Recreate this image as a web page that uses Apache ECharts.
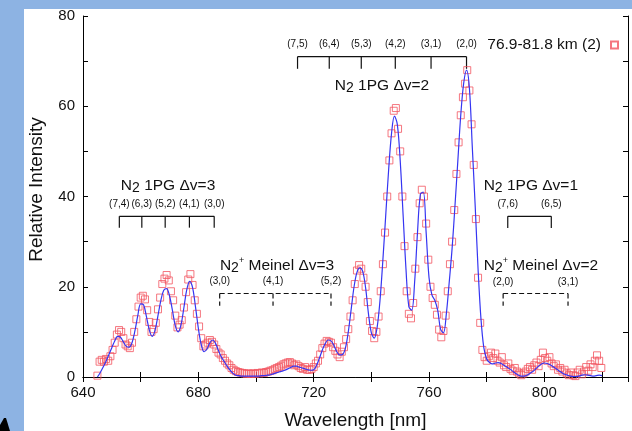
<!DOCTYPE html>
<html><head><meta charset="utf-8">
<script src="https://cdn.jsdelivr.net/npm/echarts@6/dist/echarts.min.js"></script>
<style>html,body{margin:0;padding:0;background:#fff}#c{width:632px;height:431px}</style>
</head><body><div id="c"></div>
<script>
// ---------- data ----------
const seriesName = '76.9-81.8 km (2)';
const xLabelTicks = [640, 680, 720, 760, 800];
const yLabelTicks = [0, 20, 40, 60, 80];

// fitted synthetic spectrum (blue line): [wavelength nm, relative intensity]
const fitCurve = [[645,0.0],[646,1.0],[647,2.2],[648,3.5],[649,5.0],[650,6.5],[651,8.0],[652,9.0],[653,8.8],[654,7.8],[655,6.8],[656,6.6],[657,7.6],[658,10.2],[659,13.6],[660,16.2],[661,16.0],[662,13.4],[663,10.4],[664,9.0],[665,10.4],[666,13.6],[667,17.0],[668,19.2],[669,19.6],[670,18.0],[671,14.8],[672,11.4],[673,10.0],[674,11.6],[675,15.4],[676,19.4],[677,21.2],[678,19.8],[679,15.6],[680,10.8],[681,7.2],[682,5.6],[683,6.2],[684,7.6],[685,8.2],[686,7.4],[687,5.8],[688,4.4],[689,3.4],[690,2.4],[691,1.5],[692,0.8],[693,0.4],[694,0.3],[695,0.2],[696,0.2],[697,0.2],[698,0.2],[699,0.2],[700,0.2],[701,0.2],[702,0.3],[703,0.3],[704,0.4],[705,0.5],[706,0.7],[707,0.9],[708,1.1],[709,1.3],[710,1.5],[711,1.8],[712,2.1],[713,2.4],[714,2.4],[715,2.2],[716,2.0],[717,1.8],[718,1.6],[719,1.5],[720,1.6],[721,2.6],[722,4.2],[723,6.0],[724,7.4],[725,8.2],[726,8.0],[727,7.0],[728,5.6],[729,4.9],[730,5.0],[731,6.4],[732,10.0],[733,15.0],[734,20.0],[735,23.2],[736,24.2],[737,23.4],[738,19.8],[739,14.0],[740,9.8],[741,8.6],[742,11.0],[743,17.0],[744,26.0],[745,36.0],[746,46.0],[747,54.0],[748,57.8],[749,56.0],[750,48.0],[751,36.0],[752,24.0],[753,15.6],[754,14.8],[755,21.0],[756,32.0],[757,40.5],[758,41.0],[759,32.0],[760,22.0],[761,18.2],[762,17.0],[763,14.8],[764,10.6],[765,9.8],[766,14.0],[767,21.0],[768,28.5],[769,38.0],[770,48.0],[771,58.0],[772,65.0],[773,68.0],[774,64.0],[775,51.0],[776,38.0],[777,24.0],[778,13.0],[779,6.5],[780,4.0],[781,3.2],[782,2.9],[783,3.1],[784,3.2],[785,3.0],[786,2.6],[787,2.2],[788,1.8],[789,1.3],[790,0.8],[791,0.4],[792,0.2],[793,0.2],[794,0.4],[795,0.8],[796,1.2],[797,1.8],[798,2.4],[799,2.9],[800,3.1],[801,3.0],[802,2.7],[803,2.3],[804,1.9],[805,1.4],[806,1.0],[807,0.6],[808,0.4],[809,0.2],[810,0.1],[811,0.1],[812,0.2],[813,0.4],[814,0.5],[815,0.4],[816,0.3],[817,0.2],[818,0.3],[819,0.4],[820,0.3]];

// measured spectrum (red squares): [wavelength nm, relative intensity]
const obsPoints = [[645.00,0.3],[645.75,3.4],[646.50,3.8],[647.25,3.4],[648.00,4.0],[648.75,3.6],[649.50,4.6],[650.25,6.0],[651.00,7.6],[651.75,9.4],[652.50,10.4],[653.25,10.0],[654.00,8.6],[654.75,7.2],[655.50,6.8],[656.25,6.4],[657.00,7.6],[657.75,10.0],[658.50,12.8],[659.25,15.6],[660.00,17.6],[660.75,18.0],[661.50,17.2],[662.25,14.8],[663.00,12.2],[663.75,10.0],[664.50,10.6],[665.25,12.0],[666.00,15.0],[666.75,17.6],[667.50,20.6],[668.25,21.8],[669.00,22.6],[669.75,21.4],[670.50,19.0],[671.25,17.0],[672.00,13.6],[672.75,11.0],[673.50,11.6],[674.25,12.6],[675.00,15.4],[675.75,18.8],[676.50,21.6],[677.25,22.8],[678.00,20.4],[678.75,17.0],[679.50,14.0],[680.25,11.2],[681.00,8.6],[681.75,6.8],[682.50,7.2],[683.25,7.6],[684.00,8.2],[684.75,7.8],[685.50,7.2],[686.25,6.2],[687.00,5.4],[687.75,5.0],[688.50,4.2],[689.25,3.6],[690.00,3.0],[690.75,2.6],[691.50,2.0],[692.25,1.6],[693.00,1.3],[693.75,1.1],[694.50,1.0],[695.25,0.9],[696.00,0.8],[696.75,0.7],[697.50,0.8],[698.25,0.7],[699.00,0.8],[699.75,0.7],[700.50,0.9],[701.25,0.8],[702.00,1.0],[702.75,0.9],[703.50,1.1],[704.25,1.2],[705.00,1.4],[705.75,1.5],[706.50,1.8],[707.25,2.0],[708.00,2.2],[708.75,2.5],[709.50,2.8],[710.25,3.0],[711.00,3.2],[711.75,3.3],[712.50,3.0],[713.25,2.6],[714.00,2.8],[714.75,2.4],[715.50,2.0],[716.25,1.8],[717.00,2.2],[717.75,1.6],[718.50,1.6],[719.25,1.8],[720.00,2.2],[720.75,3.0],[721.50,3.6],[722.25,5.0],[723.00,6.4],[723.75,7.4],[724.50,8.0],[725.25,7.8],[726.00,7.6],[726.75,6.6],[727.50,5.8],[728.25,5.0],[729.00,4.4],[729.75,5.6],[730.50,6.6],[731.25,8.4],[732.00,10.6],[732.75,13.4],[733.50,17.0],[734.25,20.6],[735.00,23.6],[735.75,24.8],[736.50,24.0],[737.25,22.0],[738.00,20.0],[738.75,16.6],[739.50,12.4],[740.25,10.2],[741.00,8.6],[741.75,10.0],[742.50,13.4],[743.25,19.0],[744.00,25.0],[744.75,32.0],[745.50,40.0],[746.25,48.0],[747.00,54.0],[747.75,59.0],[748.50,59.6],[749.25,55.0],[750.00,50.0],[750.75,40.0],[751.50,29.0],[752.25,19.0],[753.00,14.0],[753.75,13.0],[754.50,16.4],[755.25,24.0],[756.00,31.0],[756.75,38.5],[757.50,41.5],[758.25,40.0],[759.00,34.0],[759.75,26.0],[760.50,20.0],[761.25,17.5],[762.00,16.0],[762.75,13.8],[763.50,10.5],[764.25,8.8],[765.00,10.2],[765.75,13.6],[766.50,19.0],[767.25,25.0],[768.00,30.0],[768.75,37.0],[769.50,45.0],[770.25,52.0],[771.00,58.0],[771.75,62.0],[772.50,65.0],[773.25,68.0],[774.00,63.5],[774.75,56.0],[775.50,47.0],[776.25,35.0],[777.00,22.0],[777.75,12.0],[778.50,6.0],[779.25,4.4],[780.00,3.6],[780.75,4.6],[781.50,5.4],[782.25,4.2],[783.00,5.2],[783.75,3.6],[784.50,3.2],[785.25,4.4],[786.00,2.6],[786.75,2.2],[787.50,3.0],[788.25,1.8],[789.00,1.4],[789.75,2.0],[790.50,1.2],[791.25,0.8],[792.00,0.4],[792.75,0.8],[793.50,1.2],[794.25,1.8],[795.00,2.2],[795.75,1.6],[796.50,2.6],[797.25,3.2],[798.00,2.4],[798.75,3.8],[799.50,5.4],[800.25,4.2],[801.00,3.6],[801.75,4.4],[802.50,3.0],[803.25,2.4],[804.00,2.8],[804.75,1.6],[805.50,2.0],[806.25,1.2],[807.00,1.6],[807.75,0.8],[808.50,0.4],[809.25,1.0],[810.00,0.4],[810.75,0.2],[811.50,1.0],[812.25,1.6],[813.00,0.6],[813.75,1.2],[814.50,2.2],[815.25,1.4],[816.00,2.8],[816.75,2.2],[817.50,3.6],[818.25,4.8],[819.00,3.6],[819.75,2.0]];

// band-head annotations (wavelengths in nm)
const pg2Heads = [714.4, 725.4, 736.5, 748.3, 760.7, 773.0];
const pg2Labels = ['(7,5)', '(6,4)', '(5,3)', '(4,2)', '(3,1)', '(2,0)'];
const pg3Heads = [652.6, 660.4, 668.5, 676.9, 685.5];
const pg3Labels = ['(7,4)', '(6,3)', '(5,2)', '(4,1)', '(3,0)'];
const pg1Heads = [787.3, 802.4];
const pg1Labels = ['(7,6)', '(6,5)'];
const mn3Heads = [687.4, 705.9, 726.0];
const mn3Labels = ['(3,0)', '(4,1)', '(5,2)'];
const mn2Heads = [785.7, 808.2];
const mn2Labels = ['(2,0)', '(3,1)'];

// ---------- chart ----------
const FONT = '"Liberation Sans", Arial, Helvetica, sans-serif';
const chart = echarts.init(document.getElementById('c'), null, {renderer: 'canvas'});

const axisCommon = {
  type: 'value',
  axisLine: {show: true, lineStyle: {color: '#000', width: 1}},
  axisTick: {show: true, inside: true, length: 5, lineStyle: {color: '#000'}},
  splitLine: {show: false}
};

const option = {
  backgroundColor: '#fff',
  animation: false,
  grid: {left: 83, right: 4, top: 16, bottom: 54, containLabel: false, outerBoundsMode: 'none'},
  legend: {
    data: [seriesName], right: 8, top: 32, align: 'right',
    itemWidth: 7, itemHeight: 7, selectedMode: false,
    textStyle: {fontSize: 15.5, fontFamily: FONT, color: '#111', padding: [0, 5, 0, 0]}
  },
  xAxis: [
    Object.assign({}, axisCommon, {
      min: 640, max: 829, interval: 20, position: 'bottom',
      axisLabel: {color: '#111', fontSize: 15, fontFamily: FONT, margin: 8,
        formatter: v => xLabelTicks.indexOf(v) >= 0 ? String(v) : ''},
      name: 'Wavelength [nm]', nameLocation: 'middle', nameGap: 34,
      nameTextStyle: {fontSize: 19, fontFamily: FONT, color: '#111'}
    }),
    Object.assign({}, axisCommon, {
      min: 640, max: 829, interval: 20, position: 'top', axisLabel: {show: false}
    })
  ],
  yAxis: [
    Object.assign({}, axisCommon, {
      min: 0, max: 80, interval: 10, position: 'left',
      axisLabel: {color: '#111', fontSize: 15, fontFamily: FONT, margin: 8,
        formatter: v => yLabelTicks.indexOf(v) >= 0 ? String(v) : ''},
      name: 'Relative Intensity', nameLocation: 'middle', nameGap: 37,
      nameTextStyle: {fontSize: 19, fontFamily: FONT, color: '#111', padding: [0, 0, 0, 14]}
    }),
    Object.assign({}, axisCommon, {
      min: 0, max: 80, interval: 10, position: 'right', axisLabel: {show: false}
    })
  ],
  series: [
    {
      name: seriesName, type: 'scatter', data: obsPoints,
      symbol: 'rect', symbolSize: 7,
      itemStyle: {color: 'rgba(255,255,255,0)', borderColor: '#f25560', borderWidth: 1},
      emphasis: {disabled: true}, z: 2
    },
    {
      name: 'fit', type: 'line', data: fitCurve, smooth: 0.35,
      showSymbol: false, symbol: 'none',
      lineStyle: {color: '#3535f2', width: 1.2},
      emphasis: {disabled: true}, z: 3
    }
  ]
};
chart.setOption(option);

// ---------- annotations placed through the axes ----------
const groups = [
  {heads: pg2Heads, labels: pg2Labels, lineY: 71.0, dropY: 68.3, labelY: 73.7, dashed: false,
   title: '{n|N}{s|2}{n| 1PG Δv=2}', titleAt: [743.7, 64.5]},
  {heads: pg3Heads, labels: pg3Labels, lineY: 35.6, dropY: 33.1, labelY: 38.3, dashed: false,
   title: '{n|N}{s|2}{n| 1PG Δv=3}', titleAt: [669.5, 42.3]},
  {heads: pg1Heads, labels: pg1Labels, lineY: 35.6, dropY: 33.0, labelY: 38.3, dashed: false,
   title: '{n|N}{s|2}{n| 1PG Δv=1}', titleAt: [795.3, 42.3]},
  {heads: mn3Heads, labels: mn3Labels, lineY: 18.5, dropY: 15.8, labelY: 21.2, dashed: true,
   title: '{n|N}{s|2}{p|+}{n| Meinel Δv=3}', titleAt: [707.3, 24.7]},
  {heads: mn2Heads, labels: mn2Labels, lineY: 18.5, dropY: 15.8, labelY: 21.0, dashed: true,
   title: '{n|N}{s|2}{p|+}{n| Meinel Δv=2}', titleAt: [798.8, 24.7]}
];

const richTitle = {
  n: {fontSize: 15.5, fontFamily: FONT, lineHeight: 19, fill: '#111', color: '#111'},
  s: {fontSize: 14, fontFamily: FONT, lineHeight: 13, fill: '#111', color: '#111', verticalAlign: 'bottom'},
  p: {fontSize: 9, fontFamily: FONT, lineHeight: 9, fill: '#111', color: '#111', verticalAlign: 'top'}
};

function buildGraphic() {
  const toPx = (x, y) => chart.convertToPixel({xAxisIndex: 0, yAxisIndex: 0}, [x, y]);
  const els = [
    {type: 'rect', shape: {x: 0, y: 0, width: 632, height: 9}, style: {fill: '#8db3e3'}, silent: true},
    {type: 'rect', shape: {x: 0, y: 0, width: 24, height: 431}, style: {fill: '#8db3e3'}, silent: true},
    {type: 'polygon', shape: {points: [[0, 431], [0, 425], [4, 418], [6, 418], [10, 431]]}, style: {fill: '#000'}, silent: true}
  ];
  groups.forEach(g => {
    const ls = {stroke: '#111', lineWidth: 1.2, lineDash: g.dashed ? [5, 3] : null};
    const a = toPx(g.heads[0], g.lineY), b = toPx(g.heads[g.heads.length - 1], g.lineY);
    els.push({type: 'line', shape: {x1: a[0], y1: a[1], x2: b[0], y2: b[1]}, style: ls, silent: true});
    g.heads.forEach((h, i) => {
      const p = toPx(h, g.lineY), q = toPx(h, g.dropY), t = toPx(h, g.labelY);
      els.push({type: 'line', shape: {x1: p[0], y1: p[1], x2: q[0], y2: q[1]}, style: ls, silent: true});
      els.push({type: 'text', x: t[0], y: t[1], silent: true,
        style: {text: g.labels[i], font: '10px ' + FONT, fill: '#111',
          textAlign: 'center', textVerticalAlign: 'middle', align: 'center', verticalAlign: 'middle'}});
    });
    const tp = toPx(g.titleAt[0], g.titleAt[1]);
    els.push({type: 'text', x: tp[0], y: tp[1], silent: true,
      style: {text: g.title, rich: richTitle, fill: '#111', font: '15.5px ' + FONT,
        textAlign: 'center', textVerticalAlign: 'middle', align: 'center', verticalAlign: 'middle'}});
  });
  chart.setOption({graphic: {elements: els}});
}
buildGraphic();
</script>
</body></html>
